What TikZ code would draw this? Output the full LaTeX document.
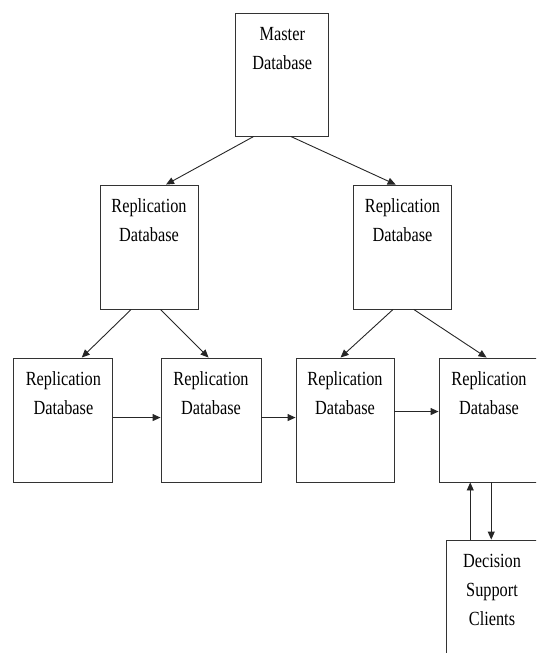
\documentclass[tikz,border=0pt]{standalone}
\usepackage{fontspec}
\setmainfont{Liberation Serif}
\usepackage{graphicx}
\usetikzlibrary{arrows.meta,positioning}
\tikzset{
  dbbox/.style={draw=black!80,line width=.9pt,minimum width=98pt,minimum height=124pt,inner sep=0pt},
  dbtext/.style={inner sep=0pt,font=\fontsize{16.3}{23.8}\selectfont},
  flow/.style={draw=black!85,line width=.9pt,-{Triangle[length=8pt,width=7pt]}}
}
\newcommand{\dblines}[1]{\scalebox{1}[1.23]{\begin{tabular}{@{}c@{}}#1\end{tabular}}}

\begin{document}
\begin{tikzpicture}[x=1pt,y=-1pt]
\useasboundingbox (0,0) rectangle (536,653);
\clip (0,0) rectangle (536,653);
%boxes
\node[dbbox,minimum width=93pt,minimum height=123pt] (master) at (282.3,74.5){};
\node[dbbox] (repa) at (149,247){};
\node[dbbox] (repb) at (402.5,247){};
\node[dbbox,minimum width=99pt] (repc) at (63.4,420){};
\node[dbbox,minimum width=100pt] (repd) at (211,420){};
\node[dbbox] (repe) at (345,420){};
\node[dbbox,minimum width=100pt] (repf) at (489,420){};
\node[dbbox,minimum width=92pt] (dsc) at (492,602){};
%labels
\node[dbtext,below=6.8pt of master.north] (mastert){\dblines{Master\\Database}};
\node[dbtext,below=6.8pt of repa.north] (repat){\dblines{Replication\\Database}};
\node[dbtext,below=6.8pt of repb.north] (repbt){\dblines{Replication\\Database}};
\node[dbtext,below=6.8pt of repc.north] (repct){\dblines{Replication\\Database}};
\node[dbtext,below=6.8pt of repd.north] (repdt){\dblines{Replication\\Database}};
\node[dbtext,below=6.8pt of repe.north] (repet){\dblines{Replication\\Database}};
\node[dbtext,below=6.8pt of repf.north] (repft){\dblines{Replication\\Database}};
\node[dbtext,below=6.8pt of dsc.north] (dsct){\dblines{Decision\\Support\\Clients}};
%tree arrows
\draw[flow] ([xshift=18.4pt]master.south west) -- ([xshift=66.5pt]repa.north west);
\draw[flow] ([xshift=55.4pt]master.south west) -- ([xshift=42.6pt]repb.north west);
\draw[flow] ([xshift=31.6pt]repa.south west) -- ([xshift=68.3pt]repc.north west);
\draw[flow] ([xshift=61pt]repa.south west) -- ([xshift=48pt]repd.north west);
\draw[flow] ([xshift=40pt]repb.south west) -- ([xshift=45pt]repe.north west);
\draw[flow] ([xshift=60.7pt]repb.south west) -- ([xshift=48pt]repf.north west);
%chain arrows
\draw[flow] ([yshift=-60pt]repc.north east) -- ([yshift=-60pt]repd.north west);
\draw[flow] ([yshift=-60pt]repd.north east) -- ([yshift=-60pt]repe.north west);
\draw[flow] ([yshift=-54pt]repe.north east) -- ([yshift=-54pt]repf.north west);
%clients
\draw[flow] ([xshift=24.7pt]dsc.north west) -- ([xshift=24.7pt]dsc.north west |- repf.south);
\draw[flow] ([xshift=52.7pt]repf.south west) -- ([xshift=52.7pt]repf.south west |- dsc.north);
\end{tikzpicture}
\end{document}
